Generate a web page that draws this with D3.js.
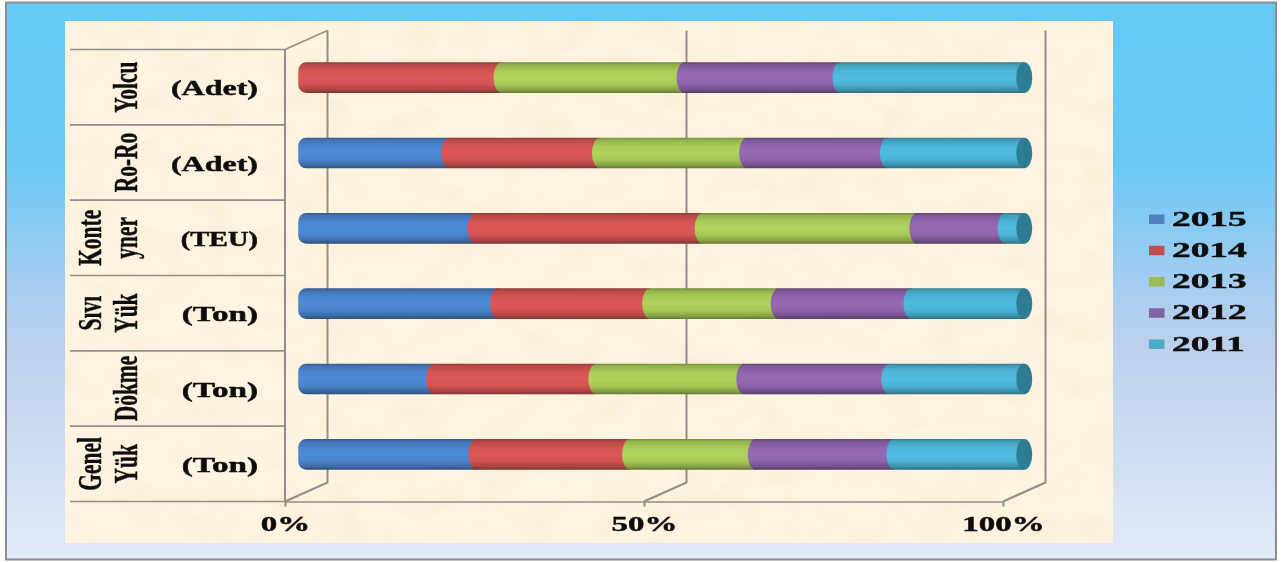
<!DOCTYPE html>
<html>
<head>
<meta charset="utf-8">
<script src="https://cdn.jsdelivr.net/npm/d3@7"></script>
<style>
html,body{margin:0;padding:0;background:#fff;}
svg{display:block;}
text{font-family:"Liberation Serif",serif;font-weight:bold;fill:#111;stroke:#111;stroke-width:0.45px;}
</style>
</head>
<body>
<svg id="chart" width="1283" height="562"></svg>
<script>
const categories = ["Yolcu","Ro-Ro","Konteyner","Sıvı Yük","Dökme","Genel Yük"];
const categoryLines = [["Yolcu"],["Ro-Ro"],["Konte","yner"],["Sıvı","Yük"],["Dökme"],["Genel","Yük"]];
const units = ["(Adet)","(Adet)","(TEU)","(Ton)","(Ton)","(Ton)"];
const years = ["2015","2014","2013","2012","2011"];
const s2015 = [0,19.9,23.6,26.7,17.8,23.7];
const s2014 = [27.2,21.0,31.6,21.2,22.6,21.4];
const s2013 = [25.5,20.5,29.9,17.9,20.6,17.5];
const s2012 = [21.7,19.6,12.3,18.5,20.2,19.3];
const s2011 = [25.6,19.0,2.6,15.7,18.8,18.1];
const xTicks = [0,50,100];
const barColors = ["#4f8ad6","#dc5856","#b0d35c","#9569b5","#4fbde0"];
const legendColors = ["#4f81bd","#c0504d","#9bbb59","#8064a2","#4bacc6"];

const series = [s2015,s2014,s2013,s2012,s2011];
const rows = categories.map((c,i)=>{
  const r = {category:c};
  years.forEach((y,k)=>{ r[y] = series[k][i]; });
  return r;
});
const stacked = d3.stack().keys(years)(rows);

const svg = d3.select("#chart");
const defs = svg.append("defs");

const bgGrad = defs.append("linearGradient").attr("id","bg").attr("x1",0).attr("y1",0).attr("x2",0).attr("y2",1);
[[0,"#66caf6"],[0.3,"#6cc8f5"],[0.5,"#a4cdf1"],[0.62,"#bdd0ed"],[1,"#e2eaf7"]]
  .forEach(s=>bgGrad.append("stop").attr("offset",s[0]).attr("stop-color",s[1]));

const paper = defs.append("filter").attr("id","paper").attr("x",0).attr("y",0).attr("width",1).attr("height",1);
paper.append("feTurbulence").attr("type","fractalNoise").attr("baseFrequency","0.025 0.035").attr("numOctaves",3).attr("seed",7).attr("result","n");
paper.append("feColorMatrix").attr("in","n").attr("type","matrix")
  .attr("values","0 0 0 0 0.88  0 0 0 0 0.74  0 0 0 0 0.52  0.5 0 0 0 -0.18").attr("result","t");
paper.append("feMerge").call(m=>{m.append("feMergeNode").attr("in","SourceGraphic");m.append("feMergeNode").attr("in","t");});

const soft = defs.append("filter").attr("id","soft").attr("x","-5%").attr("y","-5%").attr("width","110%").attr("height","110%");
soft.append("feGaussianBlur").attr("stdDeviation",0.45);

barColors.forEach((c,i)=>{
  const g = defs.append("linearGradient").attr("id","bar"+i).attr("x1",0).attr("y1",0).attr("x2",0).attr("y2",1);
  const col = d3.color(c);
  [[0,1.2],[0.08,0.5],[0.28,0.1],[0.5,0],[0.72,0.15],[0.9,0.75],[1,1.6]].forEach(s=>
    g.append("stop").attr("offset",s[0]).attr("stop-color",col.darker(s[1]).formatHex()));
});

// frame and paper panel
svg.append("rect").attr("x",6).attr("y",2.5).attr("width",1270).attr("height",557)
  .attr("fill","url(#bg)").attr("stroke","#8c8c8c").attr("stroke-width",2);
svg.append("rect").attr("x",65).attr("y",21).attr("width",1048).attr("height",522)
  .attr("fill","#fef4e1").attr("filter","url(#paper)");

const root = svg.append("g").attr("filter","url(#soft)");

// scales
const floorY = 501.5, topY = 49.5;
const x = d3.scaleLinear().domain([0,100]).range([285,1003]);
const y = d3.scaleBand().domain(categories).range([topY,floorY]);
const depth = {dx:42.5, dy:-19};
const barX = v => x(v) + depth.dx/2;
const barY = c => y(c) + y.bandwidth()/2 + depth.dy/2;
const barH = 30.6, rx = 8, ry = barH/2;
const lineCol = "#918e89";

// back wall grid lines and floor diagonals
const wall = root.append("g").attr("stroke",lineCol).attr("fill","none");
wall.selectAll("path.grid").data(xTicks).join("path").attr("class","grid")
  .attr("stroke-width",2)
  .attr("d",t=>`M${x(t)},${floorY}L${x(t)+depth.dx},${floorY+depth.dy}V${topY+depth.dy}`);
wall.append("path").attr("stroke-width",1.6)
  .attr("d",`M${x(0)},${topY}L${x(0)+depth.dx},${topY+depth.dy}`);

// category separators
root.append("g").attr("stroke",lineCol).attr("stroke-width",1.6).selectAll("line")
  .data(categories.map(c=>y(c)).concat([floorY])).join("line")
  .attr("x1",70).attr("x2",x(0)).attr("y1",d=>d).attr("y2",d=>d);
root.append("line").attr("stroke",lineCol).attr("stroke-width",2)
  .attr("x1",x(0)).attr("x2",x(0)).attr("y1",topY).attr("y2",floorY);

// x axis
const axis = root.append("g").attr("transform",`translate(0,${floorY})`)
  .call(d3.axisBottom(x).tickValues(xTicks).tickFormat(d=>d+"%").tickSize(5).tickSizeOuter(0));
axis.select(".domain").attr("stroke",lineCol).attr("stroke-width",1.6);
axis.selectAll(".tick line").attr("stroke",lineCol).attr("stroke-width",2);
axis.selectAll(".tick text").attr("y",29.5).attr("dy",0)
  .attr("font-size",20).attr("transform","scale(1.65,1)")
  .style("font-family",'"Liberation Serif",serif').style("font-weight","bold").attr("fill","#111");

// cylinders: inner joints are elliptical, the free left end is a rounded cap
const segPath = (c,v0,v1)=>{
  const cy = barY(c), a = barX(v0), b = barX(v1);
  const left = v0 === 0
    ? `A${rx},${rx} 0 0 0 ${a-rx},${cy-ry+rx}V${cy+ry-rx}A${rx},${rx} 0 0 0 ${a},${cy+ry}`
    : `A${rx},${ry} 0 0 0 ${a},${cy+ry}`;
  return `M${a},${cy-ry}${left}L${b},${cy+ry}L${b},${cy-ry}Z`;
};
const layers = root.append("g").selectAll("g").data(stacked).join("g")
  .attr("fill",(d,i)=>`url(#bar${i})`);
layers.selectAll("path").data(d=>d.filter(p=>p[1]>p[0])).join("path")
  .attr("d",p=>segPath(p.data.category,p[0],p[1]));
root.append("g").selectAll("ellipse").data(rows).join("ellipse")
  .attr("cx",barX(100)).attr("cy",d=>barY(d.category)).attr("rx",rx).attr("ry",ry)
  .attr("fill","#2f7c94");

// category labels
const catG = root.append("g").selectAll("g").data(categories).join("g");
catG.each(function(c,i){
  const g = d3.select(this), lines = categoryLines[i], cy = y(c)+y.bandwidth()/2;
  lines.forEach((t,k)=>{
    const bx = lines.length===2 && k===0 ? 101 : 137;
    g.append("text").text(t).attr("text-anchor","middle").attr("font-size",33)
      .attr("transform",`translate(${bx},${cy}) rotate(-90) scale(0.65,1)`);
  });
  const u = g.append("text").text(units[i]).attr("text-anchor","end").attr("font-size",20);
  const sx = units[i]==="(Adet)" ? 1.6 : units[i]==="(TEU)" ? 1.42 : 1.66;
  u.attr("transform",`translate(258,${cy+8}) scale(${sx},1)`);
});

// legend
const legendY = d3.scalePoint().domain(years).range([219,344]);
const lg = root.append("g").selectAll("g").data(years).join("g")
  .attr("transform",d=>`translate(0,${legendY(d)})`);
lg.append("rect").attr("x",1149).attr("y",-4.5).attr("width",15.5).attr("height",9.5)
  .attr("fill",(d,i)=>legendColors[i]);
lg.append("text").text(d=>d).attr("font-size",20)
  .attr("transform","translate(1172,6.5) scale(1.87,1)");
</script>
</body>
</html>
